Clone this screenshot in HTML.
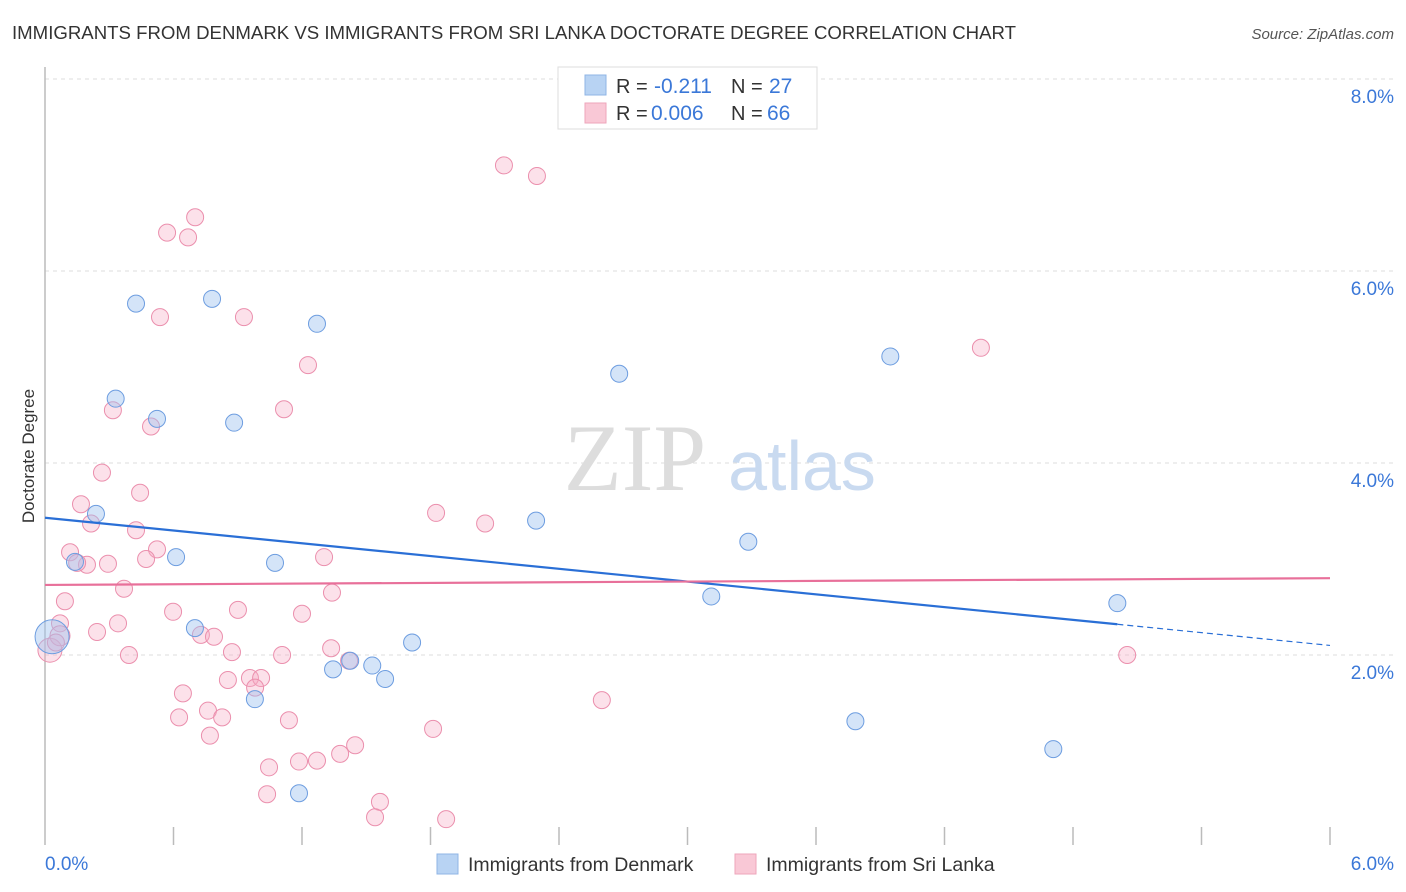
<!DOCTYPE html>
<html><head><meta charset="utf-8"><style>
body{margin:0;background:#fff;font-family:"Liberation Sans",sans-serif;}
svg{display:block}
</style></head><body>
<svg id="chart" width="1406" height="892" xmlns="http://www.w3.org/2000/svg">
<text x="12" y="39" font-size="18.5" fill="#333" textLength="1004" lengthAdjust="spacingAndGlyphs">IMMIGRANTS FROM DENMARK VS IMMIGRANTS FROM SRI LANKA DOCTORATE DEGREE CORRELATION CHART</text>
<text x="1394" y="39" font-size="15" fill="#555" font-style="italic" text-anchor="end">Source: ZipAtlas.com</text>
<g id="grid"></g>
<text x="635" y="490" font-size="95" fill="#ddd" font-family="Liberation Serif,serif" text-anchor="middle">ZIP</text>
<text x="802" y="490" font-size="70" fill="#c9daf0" text-anchor="middle">atlas</text>
<line x1="45" y1="67" x2="45" y2="845" stroke="#bbb" stroke-width="1.5"/>
<text transform="translate(34,456) rotate(-90)" font-size="17" fill="#333" text-anchor="middle">Doctorate Degree</text>
<text x="45" y="870" font-size="19" fill="#3b78d8">0.0%</text>
<text x="1394" y="870" font-size="19" fill="#3b78d8" text-anchor="end">6.0%</text>
<g id="points"></g>
<g id="trends"></g>
<g>
<rect x="558" y="67" width="259" height="62" fill="#fff" stroke="#ddd"/>
<rect x="585" y="75" width="21" height="20" fill="#b8d3f3" stroke="#8fb5e6"/>
<rect x="585" y="103" width="21" height="20" fill="#f9c8d6" stroke="#eea6bb"/>
<text x="616" y="93" font-size="20" fill="#333">R =</text>
<text x="654" y="93" font-size="21" fill="#3b78d8">-0.211</text>
<text x="731" y="93" font-size="20" fill="#333">N =</text>
<text x="769" y="93" font-size="21" fill="#3b78d8">27</text>
<text x="616" y="120" font-size="20" fill="#333">R =</text>
<text x="651" y="120" font-size="21" fill="#3b78d8">0.006</text>
<text x="731" y="120" font-size="20" fill="#333">N =</text>
<text x="767" y="120" font-size="21" fill="#3b78d8">66</text>
</g>
<g>
<rect x="437" y="854" width="21" height="20" fill="#b8d3f3" stroke="#8fb5e6"/>
<text x="468" y="871" font-size="19.5" fill="#333">Immigrants from Denmark</text>
<rect x="735" y="854" width="21" height="20" fill="#f9c8d6" stroke="#eea6bb"/>
<text x="766" y="871" font-size="19.5" fill="#333">Immigrants from Sri Lanka</text>
</g>
</svg>
<script>
const yTicks=[2,4,6,8];
const yTickLabels=["2.0%","4.0%","6.0%","8.0%"];
const xTicks=[0.6,1.2,1.8,2.4,3.0,3.6,4.2,4.8,5.4,6.0];
const denmarkX=[0.425,0.78,1.27,0.33,0.523,0.883,0.238,0.14,0.612,1.074,0.7,1.714,1.425,1.528,1.345,1.588,0.98,1.186,2.293,2.681,3.111,3.284,3.947,3.784,4.708,5.007,0.033];
const denmarkY=[5.66,5.71,5.45,4.67,4.46,4.42,3.47,2.97,3.02,2.96,2.28,2.13,1.94,1.89,1.85,1.75,1.54,0.56,3.4,4.93,2.61,3.18,5.11,1.31,1.02,2.54,2.19];
const denmarkSize=[8.5,8.5,8.5,8.5,8.5,8.5,8.5,8.5,8.5,8.5,8.5,8.5,8.5,8.5,8.5,8.5,8.5,8.5,8.5,8.5,8.5,8.5,8.5,8.5,8.5,8.5,17];
const lankaX=[2.143,2.297,0.701,0.57,0.668,0.537,0.929,1.228,4.37,0.317,1.116,0.495,0.266,0.444,0.168,1.826,2.055,0.215,0.425,0.117,0.523,1.303,0.472,0.294,0.196,0.15,0.369,1.34,0.093,0.598,0.901,1.2,0.341,0.07,0.243,0.728,0.789,1.336,0.392,0.873,1.107,1.42,5.053,0.854,0.957,1.009,0.981,0.644,2.6,0.761,0.626,0.827,1.139,0.77,1.812,1.448,1.378,1.27,1.186,1.046,1.037,1.564,1.541,1.873,0.023,0.07,0.051];
const lankaY=[7.1,6.99,6.56,6.4,6.35,5.52,5.52,5.02,5.2,4.55,4.56,4.38,3.9,3.69,3.57,3.48,3.37,3.37,3.3,3.07,3.1,3.02,3.0,2.95,2.94,2.96,2.69,2.65,2.56,2.45,2.47,2.43,2.33,2.33,2.24,2.21,2.19,2.07,2.0,2.03,2.0,1.94,2.0,1.74,1.76,1.76,1.66,1.6,1.53,1.42,1.35,1.35,1.32,1.16,1.23,1.06,0.97,0.9,0.89,0.83,0.55,0.47,0.31,0.29,2.05,2.2,2.13];
const lankaSize=[8.5,8.5,8.5,8.5,8.5,8.5,8.5,8.5,8.5,8.5,8.5,8.5,8.5,8.5,8.5,8.5,8.5,8.5,8.5,8.5,8.5,8.5,8.5,8.5,8.5,8.5,8.5,8.5,8.5,8.5,8.5,8.5,8.5,8.5,8.5,8.5,8.5,8.5,8.5,8.5,8.5,8.5,8.5,8.5,8.5,8.5,8.5,8.5,8.5,8.5,8.5,8.5,8.5,8.5,8.5,8.5,8.5,8.5,8.5,8.5,8.5,8.5,8.5,8.5,12,10,8.5];
const denmarkTrend=[3.43,2.32];
const denmarkTrendEndX=5.007;
const lankaTrend=[2.73,2.8];
const NS="http://www.w3.org/2000/svg";
const X0=45,X1=1330,Y0=847,YPER=96;
const sx=v=>X0+(v/6)*(X1-X0);
const sy=v=>Y0-v*YPER;
function mk(tag,attrs,parent){const e=document.createElementNS(NS,tag);for(const k in attrs)e.setAttribute(k,attrs[k]);parent.appendChild(e);return e;}
const grid=document.getElementById('grid');
yTicks.forEach((t,i)=>{
 const l=mk('line',{x1:45,x2:1394,y1:sy(t),y2:sy(t),stroke:'#ddd','stroke-dasharray':'4,4'},grid);
 
 
 const tx=mk('text',{x:1394,y:sy(t)+24,'font-size':19,fill:'#3b78d8','text-anchor':'end'},grid);
 tx.textContent=yTickLabels[i];
 
 
});
xTicks.forEach(t=>{
 const l=mk('line',{x1:sx(t),x2:sx(t),y1:827,y2:845,stroke:'#bbb','stroke-width':1.5},grid);
 
 
});
const pts=document.getElementById('points');
lankaX.forEach((x,i)=>{
 const c=mk('circle',{cx:sx(x),cy:sy(lankaY[i]),r:lankaSize[i],fill:'rgba(246,170,195,0.35)',stroke:'#eb8fad','stroke-width':1},pts);
 
 
});
denmarkX.forEach((x,i)=>{
 const c=mk('circle',{cx:sx(x),cy:sy(denmarkY[i]),r:denmarkSize[i],fill:'rgba(160,195,240,0.45)',stroke:'#6d9de0','stroke-width':1},pts);
 
 
});
const tr=document.getElementById('trends');
const slope=(denmarkTrend[1]-denmarkTrend[0])/denmarkTrendEndX;
let l1=mk('line',{x1:sx(0),y1:sy(denmarkTrend[0]),x2:sx(denmarkTrendEndX),y2:sy(denmarkTrend[1]),stroke:'#2a6fd6','stroke-width':2.2},tr);


let l2=mk('line',{x1:sx(denmarkTrendEndX),y1:sy(denmarkTrend[1]),x2:sx(6),y2:sy(denmarkTrend[0]+slope*6),stroke:'#2a6fd6','stroke-width':1.2,'stroke-dasharray':'6,4'},tr);


let l3=mk('line',{x1:sx(0),y1:sy(lankaTrend[0]),x2:sx(6),y2:sy(lankaTrend[1]),stroke:'#e8709a','stroke-width':2.2},tr);


</script>
</body></html>
